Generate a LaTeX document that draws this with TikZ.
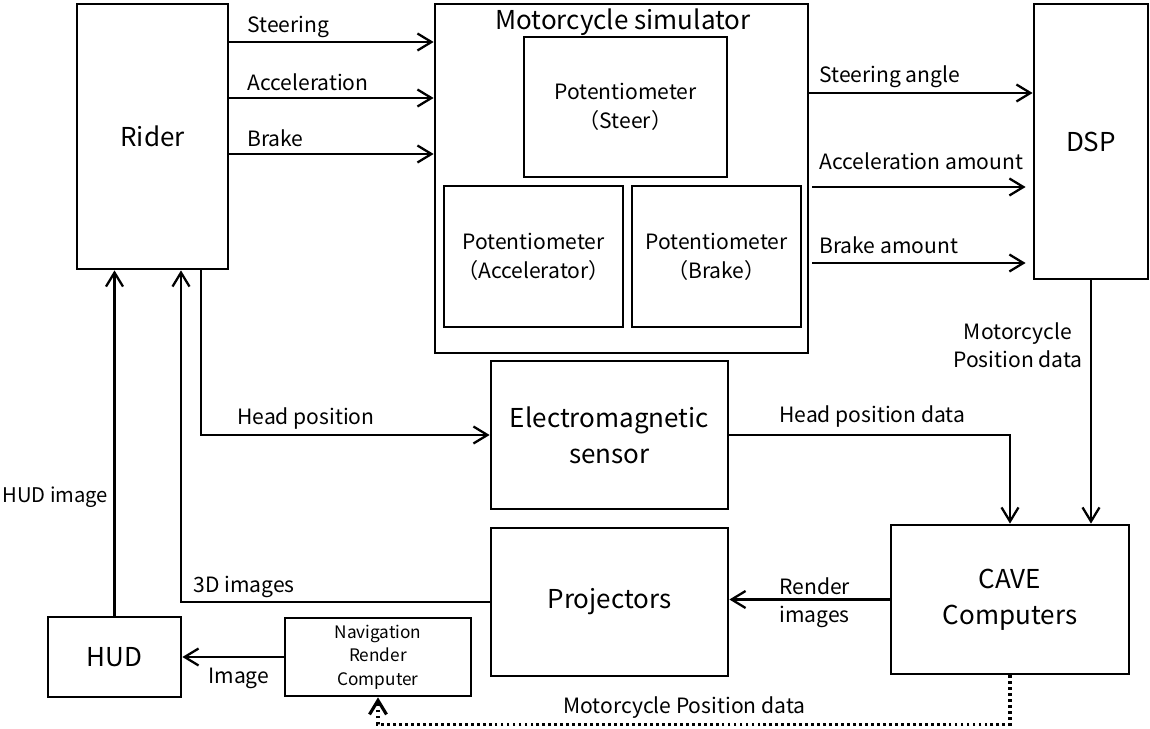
\documentclass[tikz,border=0pt]{standalone}
\usepackage{fontspec}
\setmainfont{Noto Sans CJK JP}
\usepackage{tikz}
\usetikzlibrary{arrows.meta}
\tikzset{>={Straight Barb[length=2.8mm,width=3.4mm]}}
\tikzset{
	block/.style={draw, line width=1.6pt, align=center, inner sep=0pt},
	bigtext/.style={font=\fontsize{14.8}{20.5}\selectfont},
	pottext/.style={font=\fontsize{12}{16.4}\selectfont},
	lab/.style={inner sep=0pt, align=left, font=\fontsize{12}{15.9}\selectfont},
	flow/.style={->, line width=1.3pt},
	dotflow/.style={->, line width=1.8pt, dash pattern=on 1.6pt off 1.8pt}
}

\begin{document}
\begin{tikzpicture}[x=0.02cm, y=-0.02cm]
\useasboundingbox (0,0) rectangle (1150,729);
% draw rectangle node
	\node[block, bigtext,
		minimum width=3.02cm,
		minimum height=5.3cm] (rider) at (152.5,136.5) {Rider};
	\node[block,
		minimum width=7.46cm,
		minimum height=6.98cm] (sim) at (621.5,178.5) {};
	\node[bigtext, inner sep=0pt] (simtitle) at (623,22) {Motorcycle\ simulator};
	\node[block, pottext,
		minimum width=4.06cm,
		minimum height=2.8cm] (potsteer) at (625.5,107) {Potentiometer\\（Steer）};
	\node[block, pottext,
		minimum width=3.58cm,
		minimum height=2.82cm] (potacc) at (533.5,256.5) {Potentiometer\\（Accelerator）};
	\node[block, pottext,
		minimum width=3.38cm,
		minimum height=2.82cm] (potbrake) at (716.5,256.5) {Potentiometer\\（Brake）};
	\node[block, bigtext,
		minimum width=2.28cm,
		minimum height=5.5cm] (dsp) at (1091,141.5) {DSP};
	\node[block, bigtext,
		minimum width=4.74cm,
		minimum height=2.96cm] (ems) at (609.5,435) {Electromagnetic\\sensor};
	\node[block, bigtext,
		minimum width=4.74cm,
		minimum height=2.96cm] (proj) at (609.5,602) {Projectors};
	\node[block, bigtext,
		minimum width=4.76cm,
		minimum height=2.98cm] (cave) at (1010,599.5) {CAVE\\Computers};
	\node[block, bigtext,
		minimum width=2.66cm,
		minimum height=1.6cm] (hud) at (114.5,657) {HUD};
	\node[block, font=\fontsize{9.8}{13.3}\selectfont,
		minimum width=3.72cm,
		minimum height=1.56cm] (nav) at (378,657) {Navigation\\Render\\Computer};

% rider to simulator
	\draw[flow] (rider.east |- 0,42) -- (sim.west |- 0,42);
	\draw[flow] (rider.east |- 0,98) -- (sim.west |- 0,98);
	\draw[flow] (rider.east |- 0,154) -- (sim.west |- 0,154);
	\node[lab, anchor=west] (lsteer) at (247,27) {Steering};
	\node[lab, anchor=west] (lacc) at (247,82) {Acceleration};
	\node[lab, anchor=west] (lbrake) at (247,138) {Brake};

% simulator to DSP
	\draw[flow] (sim.east |- 0,93) -- (dsp.west |- 0,93);
	\draw[flow, shorten <=1.7pt, shorten >=4pt] (sim.east |- 0,187) -- (dsp.west |- 0,187);
	\draw[flow, shorten <=1.7pt, shorten >=4pt] (sim.east |- 0,263) -- (dsp.west |- 0,263);
	\node[lab, anchor=west] (lsangle) at (819,77) {Steering angle};
	\node[lab, anchor=west] (laccamt) at (819,161) {Acceleration amount};
	\node[lab, anchor=west] (lbrkamt) at (819,245) {Brake amount};

% DSP and sensor to CAVE
	\draw[flow] (dsp.south) -- (cave.north -| dsp.south);
	\node[lab, align=center] (lmpos) at (1018,345) {Motorcycle\\Position data};
	\draw[flow] (rider.south -| 201,0) |- (ems.west);
	\node[lab, anchor=west] (lhead) at (237,419) {Head position};
	\draw[flow] (ems.east) -| (cave.north);
	\node[lab, anchor=west] (lheaddata) at (779,417) {Head position data};

% images back to rider
	\draw[flow] (cave.west) -- (proj.east |- cave.west);
	\node[lab, anchor=west] (lrender) at (779,603) {Render\\images};
	\draw[flow] (proj.west) -| (rider.south -| 181,0);
	\node[lab, anchor=west] (l3d) at (193,587) {3D images};
	\draw[flow] (hud.north) -- (rider.south -| hud.north);
	\node[lab, anchor=west, font=\fontsize{11.5}{15}\selectfont] (lhud) at (2,497) {HUD image};
	\draw[flow] (nav.west) -- (hud.east);
	\node[lab, anchor=west] (limage) at (208,678) {Image};

% dotted position data
	\draw[dotflow] (cave.south) -- ++(0,49) -| (nav.south);
	\node[lab, anchor=west] (lnavpos) at (563,708) {Motorcycle Position data};
\end{tikzpicture}
\end{document}
